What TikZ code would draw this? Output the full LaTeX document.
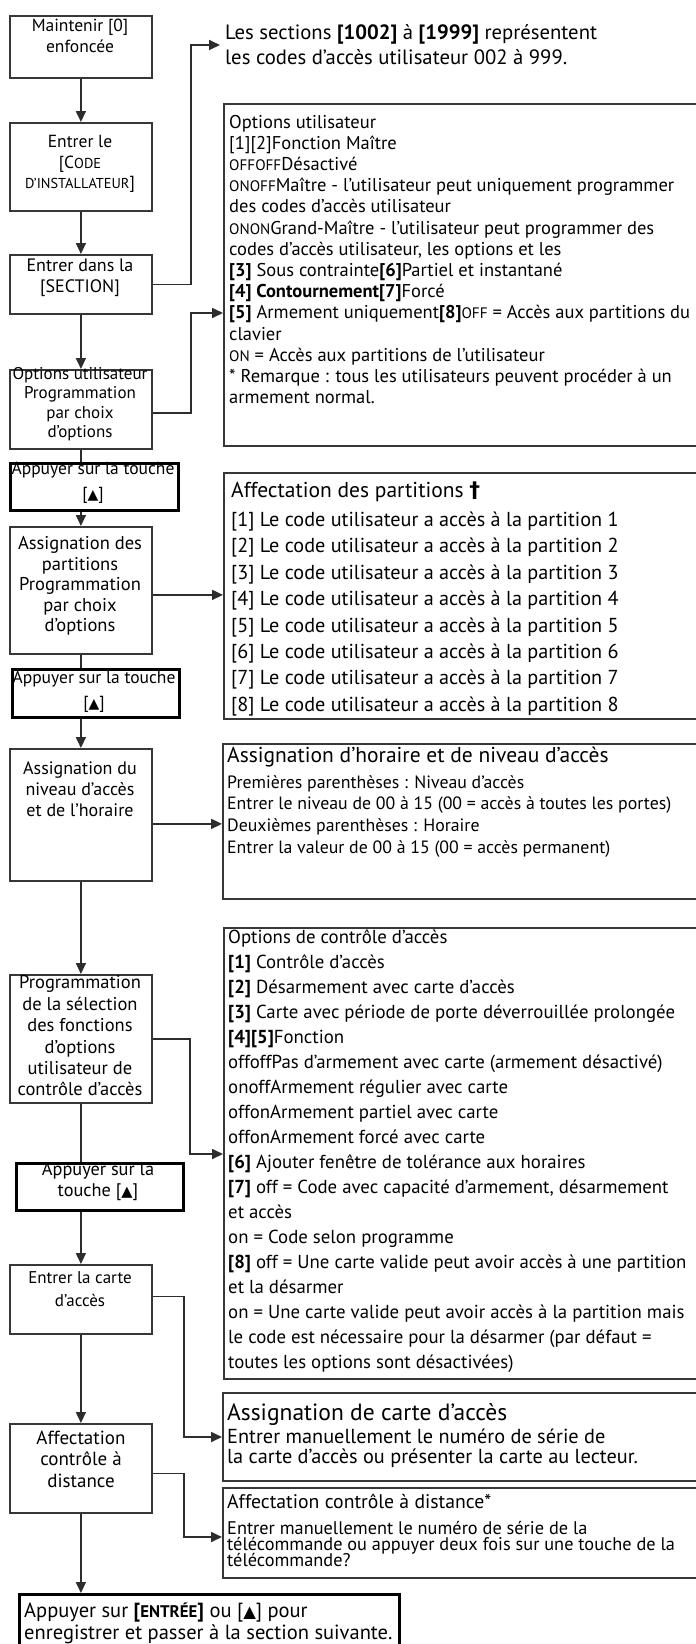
\documentclass[tikz,border=0pt]{standalone}
\usepackage{fontspec}
\usepackage{graphicx}
\setmainfont{PT Sans}
\newfontfamily\symfont[Scale=0.8]{DejaVu Sans}
\newfontfamily\plainsym{DejaVu Sans}
\usetikzlibrary{arrows.meta,calc}
\newcommand\keytri{{\symfont ▲}}
\newcommand\smcaps[1]{\scalebox{0.82}{#1}}
\newcommand\fs[2]{\fontsize{#1}{#2}\selectfont}
\definecolor{boxline}{RGB}{55,55,55}
\definecolor{linkline}{RGB}{45,45,45}

\begin{document}
\begin{tikzpicture}[x=1pt,y=-1pt,
  box/.style={draw=boxline,line width=1.8pt,inner sep=0pt,anchor=north west},
  keybox/.style={draw=black,line width=2.6pt,inner sep=0pt,anchor=north west},
  link/.style={draw=linkline,line width=1.7pt},
  arrow/.style={link,-{Triangle[length=11pt,width=10pt]}},
  ltxt/.style={align=center,inner sep=0pt,font=\fs{18.5}{20.5}},
  btxt/.style={anchor=base west,inner sep=0pt,font=\fs{18.5}{21}},
]
\clip (0,0) rectangle (696,1644);
\useasboundingbox (0,0) rectangle (696,1644);
\fill[white] (0,0) rectangle (696,1644);

% left column: steps
\node[box,minimum width=142pt,minimum height=62pt]  (m0)    at (9,15)   {};
\node[box,minimum width=142pt,minimum height=88pt]  (code)  at (9,122)  {};
\node[box,minimum width=142pt,minimum height=59pt]  (sect)  at (9,254)  {};
\node[box,minimum width=142pt,minimum height=79pt]  (opts)  at (9,369)  {};
\node[keybox,minimum width=168pt,minimum height=47pt] (key1) at (9,462) {};
\node[box,minimum width=142pt,minimum height=127pt] (part)  at (9,526)  {};
\node[keybox,minimum width=167pt,minimum height=48pt] (key2) at (11,668) {};
\node[box,minimum width=142pt,minimum height=132pt] (niv)   at (9,748)  {};
\node[box,minimum width=142pt,minimum height=128pt] (prog)  at (9,974)  {};
\node[keybox,minimum width=167pt,minimum height=47pt] (key3) at (15,1162) {};
\node[box,minimum width=142pt,minimum height=69pt]  (carte) at (9,1264) {};
\node[box,minimum width=142pt,minimum height=89pt]  (dist)  at (9,1423) {};
\node[keybox,minimum width=380pt,minimum height=80pt] (fin) at (18,1593) {};

\node[ltxt,font=\fs{17.5}{21}] (m0t)   at (80,36)  {Maintenir [0]\\enfoncée};
\node[ltxt,font=\fs{17.5}{20.5}] (codet) at (80,164) {Entrer le\\{}[C\smcaps{ODE}\\\smcaps{D'INSTALLATEUR}]};
\node[ltxt,font=\fs{18}{21}] (sectt) at (80,278) {Entrer dans la\\{}[SECTION]};
\node[ltxt,font=\fs{17}{19.5}] (optst) at (80,404) {Options utilisateur\\Programmation\\par choix\\d’options};
\node[ltxt,font=\fs{17.5}{25}] (key1t) at (93,483) {Appuyer sur la touche\\{}[\keytri]};
\node[ltxt] (partt) at (80,586) {Assignation des\\partitions\\Programmation\\par choix\\d’options};
\node[ltxt,font=\fs{17.5}{25}] (key2t) at (94,692) {Appuyer sur la touche\\{}[\keytri]};
\node[ltxt,font=\fs{18}{21}] (nivt)  at (80,789) {Assignation du\\niveau d'accès\\et de l’horaire};
\node[ltxt,font=\fs{18.5}{21.4}] (progt) at (80,1036) {Programmation\\de la sélection\\des fonctions\\d'options\\utilisateur de\\contrôle d'accès};
\node[ltxt,font=\fs{18.3}{21}] (key3t) at (98,1182) {Appuyer sur la\\touche [\keytri]};
\node[ltxt,font=\fs{17}{23}] (cartet) at (80,1289) {Entrer la carte\\d'accès};
\node[ltxt,font=\fs{19}{21.5}] (distt) at (81,1459) {Affectation\\contrôle à\\distance};
\node[anchor=base west,inner sep=0pt,font=\fs{20.5}{22}] (fin1) at (24,1617) {Appuyer sur {\bfseries[\smcaps{ENTRÉE}]} ou [\keytri] pour};
\node[anchor=base west,inner sep=0pt,font=\fs{20.5}{22}] (fin2) at (24,1639) {enregistrer et passer à la section suivante.};

% right column: details
\node[align=left,anchor=west,inner xsep=5pt,inner ysep=0pt,font=\fs{20.7}{25}] (sectxt) at (220,45)
  {Les sections {\bfseries[1002]} à {\bfseries[1999]} représentent\\les codes d'accès utilisateur 002 à 999.};

\node[box,minimum width=520pt,minimum height=342pt] (optbox)   at (223,103)  {};
\node[box,minimum width=520pt,minimum height=246pt] (partbox)  at (223,472)  {};
\node[box,minimum width=520pt,minimum height=155pt] (horbox)   at (222,743)  {};
\node[box,minimum width=520pt,minimum height=451pt] (ctlbox)   at (223,927)  {};
\node[box,minimum width=520pt,minimum height=88pt]  (cartebox) at (222,1392) {};
\node[box,minimum width=520pt,minimum height=90pt]  (telebox)  at (222,1487) {};

\foreach \linetext [count=\idx] in {
  {Options utilisateur},
  {[1][2]Fonction Maître},
  {\smcaps{OFFOFF}Désactivé},
  {\smcaps{ONOFF}Maître - l'utilisateur peut uniquement programmer},
  {des codes d'accès utilisateur},
  {\smcaps{ONON}Grand-Maître - l'utilisateur peut programmer des},
  {codes d'accès utilisateur, les options et les},
  {{\bfseries[3]} Sous contrainte{\bfseries[6]}Partiel et instantané},
  {{\bfseries[4] Contournement[7]}Forcé},
  {{\bfseries[5]} Armement uniquement{\bfseries[8]}\smcaps{OFF} = Accès aux partitions du},
  {clavier},
  {\smcaps{ON} = Accès aux partitions de l'utilisateur},
  {* Remarque : tous les utilisateurs peuvent procéder à un},
  {armement normal.}}
  \node[btxt] (opt\idx) at (229,{128+21.2*(\idx-1)}) {\linetext};

\node[btxt,font=\fs{21.5}{24}] (parthead) at (231,497) {Affectation des partitions {\plainsym\bfseries †}};
\foreach \k in {1,...,8}
  \node[btxt,font=\fs{20.2}{22}] (partl\k) at (231,{526.5+26.4*(\k-1)}) {[\k] Le code utilisateur a accès à la partition \k};

\node[btxt,font=\fs{21.5}{24}] (horhead) at (227,762) {Assignation d’horaire et de niveau d'accès};
\foreach \linetext [count=\idx] in {
  {Premières parenthèses : Niveau d'accès},
  {Entrer le niveau de 00 à 15 (00 = accès à toutes les portes)},
  {Deuxièmes parenthèses : Horaire},
  {Entrer la valeur de 00 à 15 (00 = accès permanent)}}
  \node[btxt,font=\fs{17.8}{21}] (horl\idx) at (227,{788+21.7*(\idx-1)}) {\linetext};

\foreach \linetext [count=\idx] in {
  {Options de contrôle d'accès},
  {{\bfseries[1]} Contrôle d'accès},
  {{\bfseries[2]} Désarmement avec carte d'accès},
  {{\bfseries[3]} Carte avec période de porte déverrouillée prolongée},
  {{\bfseries[4][5]}Fonction},
  {offoffPas d'armement avec carte (armement désactivé)},
  {onoffArmement régulier avec carte},
  {offonArmement partiel avec carte},
  {offonArmement forcé avec carte},
  {{\bfseries[6]} Ajouter fenêtre de tolérance aux horaires},
  {{\bfseries[7]} off = Code avec capacité d'armement, désarmement},
  {et accès},
  {on = Code selon programme},
  {{\bfseries[8]} off = Une carte valide peut avoir accès à une partition},
  {et la désarmer},
  {on = Une carte valide peut avoir accès à la partition mais},
  {le code est nécessaire pour la désarmer (par défaut =},
  {toutes les options sont désactivées)}}
  \node[btxt,font=\fs{18.8}{21}] (ctl\idx) at (228,{943+25*(\idx-1)}) {\linetext};

\node[btxt,font=\fs{23.5}{24}] (cartehead) at (227,1420.5) {Assignation de carte d'accès};
\node[btxt,font=\fs{20.3}{21}] (cartel1) at (227,1443.5) {Entrer manuellement le numéro de série de};
\node[btxt,font=\fs{20.3}{21}] (cartel2) at (227,1463.5) {la carte d'accès ou présenter la carte au lecteur.};

\node[btxt,font=\fs{19.7}{21}] (telehead) at (227,1508) {Affectation contrôle à distance*};
\foreach \linetext [count=\idx] in {
  {Entrer manuellement le numéro de série de la},
  {télécommande ou appuyer deux fois sur une touche de la},
  {télécommande?}}
  \node[btxt,font=\fs{18.3}{16}] (telel\idx) at (227,{1534+16*(\idx-1)}) {\linetext};

% main flow
\draw[arrow] (m0.south) -- (code.north);
\draw[arrow] (code.south) -- (sect.north);
\draw[arrow] (sect.south) -- (opts.north);
\draw[link]  (opts.south) -- (opts.south |- key1.north);
\draw[arrow] (part.north |- key1.south) -- (part.north);
\draw[link]  (part.south) -- (part.south |- key2.north);
\draw[arrow] (niv.north |- key2.south) -- (niv.north);
\draw[arrow] (niv.south) -- (prog.north);
\draw[link]  (prog.south) -- (prog.south |- key3.north);
\draw[arrow] (carte.north |- key3.south) -- (carte.north);
\draw[arrow] (carte.south) -- (dist.north);
\draw[arrow] (dist.south) -- (dist.south |- fin.north);

% side branches
\draw[arrow] (sect.east) -- ++(38,0) |- (sectxt.west);
\draw[arrow] ([yshift=-3.5pt]opts.east) -- ++(38,0) |- ($(optbox.north west)+(0,210)$);
\draw[arrow] ([yshift=-4.5pt]part.east) -- ([yshift=-4.5pt]part.east -| partbox.west);
\draw[arrow] ([yshift=-9pt]niv.east) -- ([yshift=-9pt]niv.east -| horbox.west);
\draw[arrow] (prog.east) -- ++(37,0) |- ($(ctlbox.north west)+(0,227)$);
\draw[arrow] ([yshift=3pt]carte.east) -- ++(31,0) |- ($(cartebox.north west)+(0,45)$);
\draw[arrow] ([yshift=-5pt]dist.east) -- ++(31,0) |- ($(telebox.north west)+(0,50)$);
\end{tikzpicture}
\end{document}
